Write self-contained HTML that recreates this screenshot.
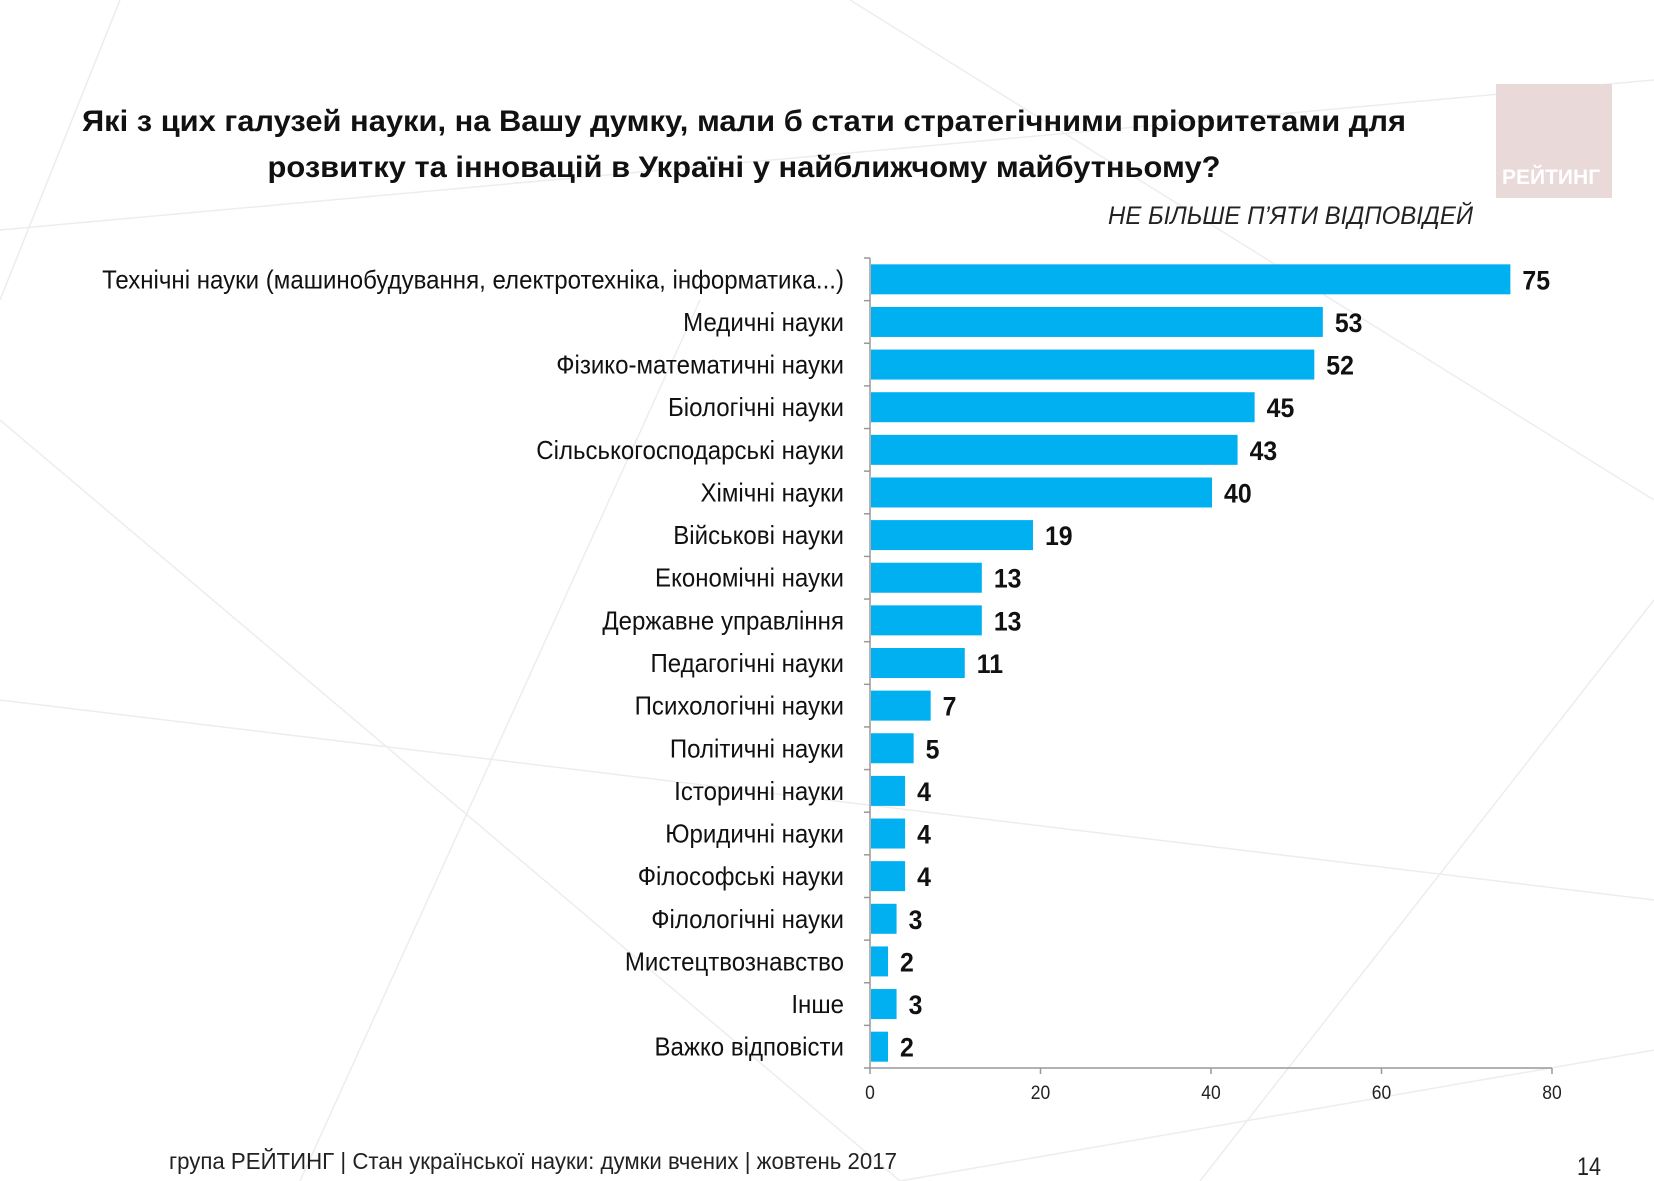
<!DOCTYPE html>
<html><head><meta charset="utf-8">
<style>
body{margin:0;background:#fff;}
#wrap{position:relative;width:1654px;height:1181px;overflow:hidden;background:#fff;font-family:"Liberation Sans",sans-serif;}
</style></head><body>
<div id="wrap">
<svg width="1654" height="1181" style="position:absolute;left:0;top:0">
<g stroke="#ededed" stroke-width="1.5" fill="none">
<line x1="120" y1="0" x2="0" y2="300"/><line x1="0" y1="230" x2="1654" y2="80"/>
<line x1="0" y1="700" x2="1654" y2="900"/><line x1="0" y1="420" x2="900" y2="1181"/>
<line x1="1200" y1="1181" x2="1654" y2="600"/><line x1="850" y1="0" x2="1654" y2="500"/>
<line x1="300" y1="1181" x2="700" y2="300"/><line x1="1654" y1="1050" x2="900" y2="1181"/>
</g></svg>
<div style="position:absolute;left:1496px;top:84px;width:116px;height:114px;background:#ead9d9;">
<div style="position:absolute;left:6px;bottom:8px;font-size:21px;font-weight:bold;color:#fff;white-space:nowrap">РЕЙТИНГ</div></div>
<svg id="chart" width="1654" height="1181" style="position:absolute;left:0;top:0"></svg>
</div>
<script>
const categories=["Технічні науки (машинобудування, електротехніка, інформатика...)","Медичні науки","Фізико-математичні науки","Біологічні науки","Сільськогосподарські науки","Хімічні науки","Військові науки","Економічні науки","Державне управління","Педагогічні науки","Психологічні науки","Політичні науки","Історичні науки","Юридичні науки","Філософські науки","Філологічні науки","Мистецтвознавство","Інше","Важко відповісти"];
const values=[75,53,52,45,43,40,19,13,13,11,7,5,4,4,4,3,2,3,2];
const ticks=[0,20,40,60,80];
const NS="http://www.w3.org/2000/svg";
const svg=document.getElementById('chart');
const FF='Liberation Sans, sans-serif';
const x0=870,x1=1552,yTop=258,yBot=1068;
const band=(yBot-yTop)/categories.length;
const xs=v=>x0+(v/80)*(x1-x0);
const yc=i=>yTop+band*(i+0.5);
function mk(tag,attrs){const e=document.createElementNS(NS,tag);for(const k in attrs)e.setAttribute(k,attrs[k]);svg.appendChild(e);return e;}
function squeeze(e,k){const w=e.getComputedTextLength();e.setAttribute('textLength',w*k);e.setAttribute('lengthAdjust','spacingAndGlyphs');}
function fit(e,w){e.setAttribute('textLength',w);e.setAttribute('lengthAdjust','spacingAndGlyphs');}

let t1=mk('text',{x:744,y:131,'text-anchor':'middle','font-size':30,'font-weight':'bold',fill:'#111','font-family':FF});
t1.textContent='Які з цих галузей науки, на Вашу думку, мали б стати стратегічними пріоритетами для';
fit(t1,1324);


let t2=mk('text',{x:744,y:177,'text-anchor':'middle','font-size':30,'font-weight':'bold',fill:'#111','font-family':FF});
t2.textContent='розвитку та інновацій в Україні у найближчому майбутньому?';
fit(t2,953);


let st=mk('text',{x:1108,y:224,'font-size':25,'font-style':'italic',fill:'#222','font-family':FF});
st.textContent='НЕ БІЛЬШЕ П’ЯТИ ВІДПОВІДЕЙ';
fit(st,365);


let ft=mk('text',{x:169,y:1169,'font-size':23,fill:'#222','font-family':FF});
ft.textContent='група РЕЙТИНГ | Стан української науки: думки вчених | жовтень 2017';
fit(ft,728);


let pn=mk('text',{x:1577,y:1175,'font-size':25,fill:'#222','font-family':FF});
pn.textContent='14';
fit(pn,24);



let ax=mk('line',{x1:x0,y1:yTop,x2:x0,y2:yBot,stroke:'#999','stroke-width':1.5});


let bx=mk('line',{x1:x0,y1:yBot,x2:x1,y2:yBot,stroke:'#999','stroke-width':1.5});


for(let i=0;i<=categories.length;i++){mk('line',{x1:x0-6,y1:yTop+band*i,x2:x0,y2:yTop+band*i,stroke:'#999','stroke-width':1.5});}
ticks.forEach(t=>{
 mk('line',{x1:xs(t),y1:yBot,x2:xs(t),y2:yBot+6,stroke:'#999','stroke-width':1.5});
 const tx=mk('text',{x:xs(t),y:yBot+31,'text-anchor':'middle','font-size':19,fill:'#222','font-family':FF});
 tx.textContent=t;
 squeeze(tx,0.92);
 
 
});
categories.forEach((c,i)=>{
 const y=yc(i);
 const r=mk('rect',{x:x0+1,y:y-15,width:xs(values[i])-x0,height:30,fill:'#00b0f0'});
 
 
 const l=mk('text',{x:844,y:y+9,'text-anchor':'end','font-size':26,fill:'#111','font-family':FF});
 l.textContent=c;
 squeeze(l,0.925);
 
 
 const v=mk('text',{x:xs(values[i])+13,y:y+10,'font-size':27,'font-weight':'bold',fill:'#111','font-family':FF});
 v.textContent=values[i];
 squeeze(v,0.92);
 
 
});
</script>
</body></html>
